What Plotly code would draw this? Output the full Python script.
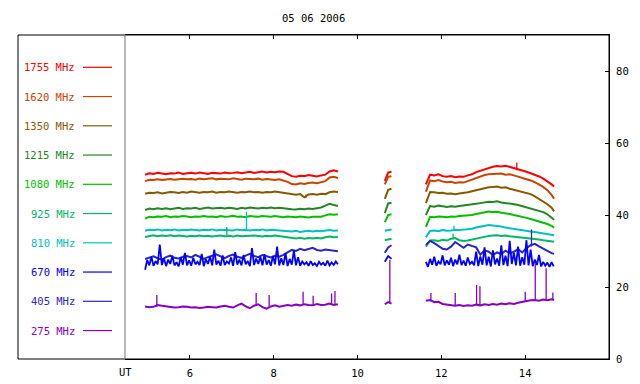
import plotly.graph_objects as go

# ---------------- data ----------------
TITLE = "05 06 2006"
BANDS = ["1755 MHz", "1620 MHz", "1350 MHz", "1215 MHz", "1080 MHz",
         "925 MHz", "810 MHz", "670 MHz", "405 MHz", "275 MHz"]
COLORS = ["#ff0000", "#c84400", "#885a00", "#228822", "#00c000",
          "#00b868", "#00c0c0", "#0000ff", "#2828c0", "#8800c8"]
X_TICKS = [6, 8, 10, 12, 14]
Y_TICKS = [0, 20, 40, 60, 80]

# sample times (UT hours)
T1 = [4.93, 5.03, 5.13, 5.23, 5.33, 5.43, 5.53, 5.63, 5.73, 5.83, 5.93, 6.03,
      6.13, 6.23, 6.33, 6.43, 6.53, 6.63, 6.73, 6.83, 6.93, 7.03, 7.13, 7.23,
      7.33, 7.43, 7.53, 7.63, 7.73, 7.83, 7.93, 8.03, 8.13, 8.23, 8.33, 8.43,
      8.53, 8.63, 8.73, 8.83, 8.93, 9.03, 9.13, 9.23, 9.33, 9.43, 9.53]
T2 = [10.65, 10.73, 10.81]
T3 = [11.63, 11.73, 11.83, 11.93, 12.03, 12.13, 12.23, 12.33, 12.43, 12.53,
      12.63, 12.73, 12.83, 12.93, 13.03, 13.13, 13.23, 13.33, 13.43, 13.53,
      13.63, 13.73, 13.83, 13.93, 14.03, 14.13, 14.23, 14.33, 14.43, 14.53,
      14.63, 14.69]
T1F = [4.93, 4.98, 5.03, 5.08, 5.13, 5.18, 5.23, 5.28, 5.33, 5.38, 5.43, 5.48,
       5.53, 5.58, 5.63, 5.68, 5.73, 5.78, 5.83, 5.88, 5.93, 5.98, 6.03, 6.08,
       6.13, 6.18, 6.23, 6.28, 6.33, 6.38, 6.43, 6.48, 6.53, 6.58, 6.63, 6.68,
       6.73, 6.78, 6.83, 6.88, 6.93, 6.98, 7.03, 7.08, 7.13, 7.18, 7.23, 7.28,
       7.33, 7.38, 7.43, 7.48, 7.53, 7.58, 7.63, 7.68, 7.73, 7.78, 7.83, 7.88,
       7.93, 7.98, 8.03, 8.08, 8.13, 8.18, 8.23, 8.28, 8.33, 8.38, 8.43, 8.48,
       8.53, 8.58, 8.63, 8.68, 8.73, 8.78, 8.83, 8.88, 8.93, 8.98, 9.03, 9.08,
       9.13, 9.18, 9.23, 9.28, 9.33, 9.38, 9.43, 9.48, 9.53]
T3F = [11.63, 11.68, 11.73, 11.78, 11.83, 11.88, 11.93, 11.98, 12.03, 12.08,
       12.13, 12.18, 12.23, 12.28, 12.33, 12.38, 12.43, 12.48, 12.53, 12.58,
       12.63, 12.68, 12.73, 12.78, 12.83, 12.88, 12.93, 12.98, 13.03, 13.08,
       13.13, 13.18, 13.23, 13.28, 13.33, 13.38, 13.43, 13.48, 13.53, 13.58,
       13.63, 13.68, 13.73, 13.78, 13.83, 13.88, 13.93, 13.98, 14.03, 14.08,
       14.13, 14.18, 14.23, 14.28, 14.33, 14.38, 14.43, 14.48, 14.53, 14.58,
       14.63, 14.68]

# flux values per band, per observing segment
S1755_1 = [51.2, 51.6, 51.4, 51.7, 51.5, 51.3, 51.6, 51.5, 51.8, 51.4, 51.6, 51.7,
           51.5, 51.8, 51.6, 51.4, 51.7, 51.6, 51.5, 51.8, 51.6, 51.7, 51.9, 51.6,
           51.8, 52.0, 51.7, 51.9, 52.1, 51.8, 52.0, 51.9, 52.1, 52.0, 51.5, 50.8,
           50.6, 50.9, 50.8, 51.1, 50.9, 50.7, 51.0, 51.2, 52.1, 52.4, 52.1]
S1755_2 = [49.5, 51.8, 52.0]
S1755_3 = [48.5, 51.2, 51.0, 51.3, 50.8, 50.6, 50.8, 50.5, 50.7, 50.6, 51.0, 51.3,
           51.9, 52.3, 52.8, 53.1, 53.4, 53.6, 53.5, 53.7, 53.4, 53.0, 52.6, 52.3,
           52.0, 51.6, 51.2, 50.7, 50.1, 49.4, 48.5, 47.9]

S1620_1 = [49.4, 49.8, 49.7, 49.9, 49.7, 49.8, 50.0, 49.8, 49.9, 50.1, 49.9, 50.0,
           49.8, 50.1, 49.9, 50.0, 50.2, 49.9, 50.1, 50.0, 49.9, 50.2, 50.0, 49.8,
           50.1, 50.0, 49.9, 50.1, 49.8, 50.0, 49.9, 49.7, 49.9, 49.6, 49.2, 48.6,
           48.5, 48.8, 48.6, 48.9, 49.0, 48.8, 49.1, 49.4, 50.4, 50.6, 50.3]
S1620_2 = [48.5, 50.6, 50.8]
S1620_3 = [46.5, 49.6, 49.4, 49.7, 49.3, 49.1, 49.2, 48.9, 49.1, 49.0, 49.4, 49.8,
           50.4, 50.8, 51.1, 51.3, 51.4, 51.3, 51.5, 51.2, 51.3, 51.0, 50.7, 50.4,
           50.0, 49.6, 49.1, 48.5, 47.8, 46.9, 45.6, 44.5]

S1350_1 = [45.9, 46.2, 46.1, 46.3, 46.0, 46.2, 46.4, 46.3, 46.1, 46.4, 46.2, 46.5,
           46.3, 46.2, 46.4, 46.3, 46.5, 46.2, 46.4, 46.3, 46.5, 46.4, 46.2, 46.4,
           46.3, 46.5, 46.3, 46.4, 46.2, 46.4, 46.3, 46.5, 46.3, 46.2, 46.0, 45.7,
           45.6, 45.8, 44.9, 45.7, 45.8, 45.6, 45.9, 45.8, 46.3, 46.5, 46.4]
S1350_2 = [44.5, 47.0, 47.3]
S1350_3 = [43.3, 46.4, 46.3, 46.1, 46.2, 45.9, 46.0, 45.8, 46.0, 46.1, 46.3, 46.6,
           46.9, 47.2, 47.4, 47.7, 47.8, 47.9, 47.6, 47.7, 47.3, 47.0, 46.8, 46.5,
           46.2, 45.8, 45.2, 44.5, 43.8, 43.0, 42.0, 41.0]

S1215_1 = [41.4, 41.8, 41.6, 41.9, 41.7, 41.9, 41.6, 41.8, 42.0, 41.7, 41.9, 41.8,
           42.0, 41.7, 41.9, 42.1, 41.8, 41.9, 42.0, 41.8, 42.0, 41.9, 41.7, 42.0,
           41.8, 42.1, 41.9, 41.8, 42.0, 41.9, 42.1, 41.9, 42.0, 41.8, 41.7, 41.6,
           41.5, 41.7, 41.6, 41.8, 41.7, 41.9, 42.1, 42.6, 43.1, 42.8, 42.5]
S1215_2 = [40.5, 43.2, 43.4]
S1215_3 = [40.0, 42.5, 42.3, 42.6, 42.4, 42.2, 42.4, 42.3, 42.5, 42.6, 42.7, 42.9,
           43.1, 43.3, 43.5, 43.7, 43.6, 43.8, 43.5, 43.4, 43.2, 43.0, 42.8, 42.5,
           42.2, 41.9, 41.6, 41.3, 40.8, 40.2, 39.4, 38.7]

S1080_1 = [39.0, 39.5, 39.4, 39.6, 39.5, 39.7, 39.4, 39.6, 39.5, 39.7, 39.6, 39.4,
           39.6, 39.5, 39.7, 39.5, 39.6, 39.4, 39.7, 39.5, 39.6, 39.8, 39.5, 39.6,
           39.4, 39.7, 39.6, 39.5, 39.7, 39.6, 39.5, 39.7, 39.6, 39.4, 39.6, 39.5,
           39.4, 39.6, 39.5, 39.3, 39.5, 39.6, 39.5, 39.9, 40.2, 40.1, 40.2]
S1080_2 = [38.0, 40.0, 40.2]
S1080_3 = [36.7, 39.5, 39.4, 39.6, 39.5, 39.4, 39.6, 39.5, 39.7, 39.8, 39.8, 40.0,
           40.3, 40.6, 40.9, 41.0, 40.8, 40.9, 40.6, 40.5, 40.3, 40.0, 39.8, 39.5,
           39.2, 38.9, 38.6, 38.2, 37.9, 37.5, 37.0, 36.5]

S925_1 = [33.9, 34.2, 34.4, 34.1, 34.3, 34.2, 34.4, 34.1, 34.3, 34.2, 34.0, 34.2,
          34.1, 34.3, 34.1, 34.2, 34.0, 34.2, 34.3, 34.1, 34.2, 34.0, 34.3, 34.1,
          34.2, 34.1, 34.3, 34.2, 34.0, 34.2, 34.1, 34.3, 34.1, 34.0, 33.8, 33.6,
          33.5, 33.7, 33.4, 33.6, 33.5, 33.7, 33.5, 33.8, 34.0, 33.8, 33.9]
S925_2 = [33.0, 33.3, 33.4]
S925_3 = [31.2, 32.9, 33.0, 32.8, 33.1, 32.9, 33.4, 33.6, 33.0, 32.8, 32.9, 33.2,
          33.5, 33.8, 34.0, 34.2, 34.3, 34.4, 34.2, 34.3, 34.1, 34.0, 33.9, 33.8,
          33.6, 33.5, 33.4, 33.2, 33.0, 32.9, 32.7, 32.6]

S810_1 = [35.6, 35.9, 35.8, 36.0, 35.7, 35.9, 35.8, 36.0, 35.7, 35.9, 35.8, 36.0,
          35.8, 35.7, 35.9, 35.8, 36.0, 35.7, 35.9, 35.8, 35.9, 35.7, 36.0, 35.8,
          35.9, 35.7, 35.9, 35.8, 36.0, 35.7, 35.9, 35.8, 35.9, 35.7, 35.6, 35.4,
          35.6, 35.3, 35.5, 35.6, 35.4, 35.6, 35.5, 35.7, 35.8, 35.6, 35.7]
S810_2 = [35.6, 35.8, 36.0]
S810_3 = [33.8, 35.6, 35.7, 35.5, 35.8, 35.6, 35.7, 35.9, 35.8, 35.9, 36.0, 36.2,
          36.5, 36.7, 37.0, 37.2, 37.1, 37.0, 36.8, 36.5, 36.3, 36.0, 35.8, 35.6,
          35.5, 35.4, 35.3, 35.1, 34.9, 34.8, 34.6, 34.4]

S670_1 = [24.8, 27.5, 26.0, 28.4, 25.9, 27.2, 26.3, 31.8, 26.1, 28.0, 25.8, 27.6,
          26.4, 28.7, 26.0, 26.9, 25.7, 28.3, 26.2, 29.5, 26.0, 27.4, 25.9, 28.1,
          26.3, 27.0, 26.1, 29.2, 25.8, 27.7, 26.4, 28.5, 26.0, 30.4, 26.2, 27.3,
          25.9, 28.8, 26.1, 27.1, 26.5, 28.2, 25.9, 29.7, 26.2, 27.6, 26.0, 28.9,
          26.3, 27.2, 25.8, 30.8, 26.1, 27.9, 26.4, 28.4, 26.0, 29.1, 26.2, 27.5,
          25.9, 28.6, 26.3, 31.2, 26.0, 28.0, 26.1, 29.4, 25.8, 27.8, 26.2, 30.1,
          26.0, 28.3, 25.9, 27.1, 26.3, 26.9, 25.9, 27.2, 26.1, 26.6, 25.8, 27.0,
          26.2, 26.7, 25.9, 27.3, 26.0, 26.8, 26.1, 27.1, 26.3]
S670_2 = [27.0, 28.6, 27.8]
S670_3 = [27.0, 25.6, 27.8, 26.2, 28.4, 25.9, 27.1, 26.3, 28.8, 26.0,
          27.4, 26.2, 28.1, 25.8, 27.6, 26.3, 29.0, 26.1, 27.3, 25.9,
          28.2, 26.4, 27.0, 26.0, 29.8, 25.8, 28.5, 26.2, 31.0, 26.0,
          28.4, 25.7, 30.2, 26.3, 27.9, 25.9, 31.6, 26.1, 28.7, 25.8,
          32.8, 26.4, 29.5, 26.0, 31.2, 25.9, 28.3, 26.2, 33.0, 26.0,
          30.4, 25.8, 27.6, 26.1, 28.9, 25.7, 27.0, 25.9, 26.8, 25.6,
          26.9, 25.7]

S405_1 = [27.8, 28.2, 28.5, 28.0, 27.6, 28.3, 28.7, 28.1, 27.9, 28.4, 28.6, 28.2,
          28.9, 28.4, 27.8, 28.3, 28.8, 29.1, 28.5, 28.0, 28.6, 29.0, 28.4, 28.1,
          28.7, 29.2, 28.6, 28.3, 28.9, 28.5, 28.2, 28.7, 28.4, 28.9, 29.6, 30.3,
          30.0, 30.6, 30.2, 30.5, 30.9, 30.3, 30.1, 30.4, 30.2, 30.0, 29.9]
S405_2 = [29.5, 31.0, 31.6]
S405_3 = [31.7, 32.8, 32.2, 31.4, 30.6, 30.4, 31.2, 32.5, 31.6, 30.9, 31.8, 31.5,
          31.0, 29.0, 30.2, 29.8, 28.9, 29.6, 29.2, 30.1, 29.4, 29.8, 30.5, 29.6,
          30.8, 31.6, 32.0, 31.3, 30.6, 29.9, 29.4, 29.2]

S275_1 = [14.6, 14.4, 14.5, 15.0, 14.8, 14.6, 14.5, 14.3, 14.4, 14.6, 14.5, 14.3,
          14.4, 14.2, 14.3, 14.5, 14.4, 14.3, 14.6, 14.8, 14.5, 14.3, 14.9, 15.4,
          14.6, 14.1, 14.8, 15.2, 14.4, 14.0, 14.6, 14.9, 14.5, 14.7, 15.0, 14.8,
          15.1, 14.9, 15.2, 15.0, 14.9, 15.3, 15.0, 15.1, 15.4, 15.0, 15.2]
S275_2 = [15.2, 15.8, 15.4]
S275_3 = [16.2, 16.4, 15.8, 15.9, 15.3, 15.1, 14.9, 14.8, 15.0, 14.7, 14.9, 14.8,
          15.1, 14.9, 15.2, 15.0, 15.3, 15.1, 15.4, 15.2, 15.5, 15.3, 15.6, 15.9,
          16.2, 16.3, 16.4, 16.2, 16.5, 16.3, 16.6, 16.4]

# short spikes: band index, time, base value, top value
SPIKE_BAND = [0, 6, 5, 6, 5, 8, 2,
              9, 9, 9, 9, 9, 9, 9, 9, 9, 9, 9, 9, 9, 9, 9, 9]
SPIKE_T = [13.80, 7.35, 6.88, 12.30, 12.28, 14.15, 8.77,
           5.21, 7.58, 7.89, 8.70, 8.94, 9.38, 9.46, 10.77, 11.75, 12.33,
           12.84, 12.92, 14.00, 14.24, 14.50, 14.66]
SPIKE_BASE = [52.4, 35.9, 34.1, 35.9, 33.2, 31.2, 45.7,
              14.5, 14.9, 14.6, 15.0, 14.9, 15.2, 15.0, 15.5, 16.0, 14.8,
              15.0, 15.0, 16.2, 16.3, 16.4, 16.4]
SPIKE_TOP = [54.6, 40.9, 36.7, 37.0, 34.8, 36.0, 44.7,
             17.8, 18.3, 17.8, 18.7, 17.6, 18.2, 18.9, 27.5, 18.3, 18.3,
             20.6, 20.2, 18.7, 26.6, 25.2, 18.5]

SERIES = {
    "1755 MHz": (T1, S1755_1, T2, S1755_2, T3, S1755_3),
    "1620 MHz": (T1, S1620_1, T2, S1620_2, T3, S1620_3),
    "1350 MHz": (T1, S1350_1, T2, S1350_2, T3, S1350_3),
    "1215 MHz": (T1, S1215_1, T2, S1215_2, T3, S1215_3),
    "1080 MHz": (T1, S1080_1, T2, S1080_2, T3, S1080_3),
    "925 MHz": (T1, S925_1, T2, S925_2, T3, S925_3),
    "810 MHz": (T1, S810_1, T2, S810_2, T3, S810_3),
    "405 MHz": (T1, S405_1, T2, S405_2, T3, S405_3),
    "670 MHz": (T1F, S670_1, T2, S670_2, T3F, S670_3),
    "275 MHz": (T1, S275_1, T2, S275_2, T3, S275_3),
}

# ---------------- figure ----------------
FONT = "DejaVu Sans Mono"
OFF = 8                       # page body margin added by the html page
W, H = 632, 376
ML, MR, MT, MB = 117, 31, 27, 25
PW, PH = W - ML - MR, H - MT - MB

fig = go.Figure()

for name, (ta, ya, tb, yb, tc, yc) in SERIES.items():
    col = COLORS[BANDS.index(name)]
    xs = list(ta) + [None] + list(tb) + [None] + list(tc)
    ys = list(ya) + [None] + list(yb) + [None] + list(yc)
    fig.add_trace(go.Scatter(x=xs, y=ys, mode="lines", name=name,
                             line=dict(color=col, width=2.0 if name != "670 MHz" else 1.8),
                             hoverinfo="skip"))

for b in sorted(set(SPIKE_BAND)):
    xs, ys = [], []
    for bi, t, lo, hi in zip(SPIKE_BAND, SPIKE_T, SPIKE_BASE, SPIKE_TOP):
        if bi == b:
            xs += [t, t, None]
            ys += [lo, hi, None]
    fig.add_trace(go.Scatter(x=xs, y=ys, mode="lines", line=dict(color=COLORS[b], width=1.3),
                             hoverinfo="skip"))


def px_to_paper_x(px):
    # px in page coordinates
    return (px - OFF - ML) / PW


def px_to_paper_y(py):
    return (H - MB - (py - OFF)) / PH


shapes = []
annotations = []
# outer frame (includes legend panel)
shapes.append(dict(type="rect", xref="paper", yref="paper",
                   x0=px_to_paper_x(18), x1=1, y0=0, y1=1,
                   line=dict(color="black", width=1)))
# grey divider between legend panel and plot
shapes.append(dict(type="line", xref="paper", yref="paper", x0=0, x1=0, y0=0, y1=1,
                   line=dict(color="#707070", width=1)))

for i, (name, col) in enumerate(zip(BANDS, COLORS)):
    py = 67.3 + 29.25 * i
    yp = px_to_paper_y(py)
    annotations.append(dict(xref="paper", yref="paper", x=px_to_paper_x(77), y=yp,
                            text=name, showarrow=False, xanchor="right", yanchor="middle",
                            font=dict(family=FONT, size=10.5, color=col)))
    shapes.append(dict(type="line", xref="paper", yref="paper",
                       x0=px_to_paper_x(83), x1=px_to_paper_x(112), y0=yp, y1=yp,
                       line=dict(color=col, width=1.2)))

annotations.append(dict(xref="paper", yref="paper", x=px_to_paper_x(313), y=px_to_paper_y(18),
                        text=TITLE, showarrow=False, xanchor="center", yanchor="middle",
                        font=dict(family=FONT, size=10.5, color="black")))
annotations.append(dict(xref="paper", yref="paper", x=0, y=px_to_paper_y(372),
                        text="UT", showarrow=False, xanchor="center", yanchor="middle",
                        font=dict(family=FONT, size=10.5, color="black")))

fig.update_layout(
    width=W, height=H,
    margin=dict(l=ML, r=MR, t=MT, b=MB, pad=0, autoexpand=False),
    paper_bgcolor="white", plot_bgcolor="white",
    showlegend=False,
    shapes=shapes, annotations=annotations,
    font=dict(family=FONT, size=10.5, color="black"),
    xaxis=dict(range=[4.45, 16], tickvals=X_TICKS, ticktext=[str(v) for v in X_TICKS],
               ticks="inside", ticklen=4, tickcolor="black", showline=True,
               linecolor="black", linewidth=1, mirror="ticks", showgrid=False,
               zeroline=False, ticklabelstandoff=4, automargin=False),
    yaxis=dict(range=[0, 90], tickvals=Y_TICKS, side="right",
               ticks="inside", ticklen=4, tickcolor="black", showline=True,
               linecolor="black", linewidth=1, showgrid=False, zeroline=False,
               ticklabelstandoff=4, automargin=False),
)

fig.write_html("out.html")
